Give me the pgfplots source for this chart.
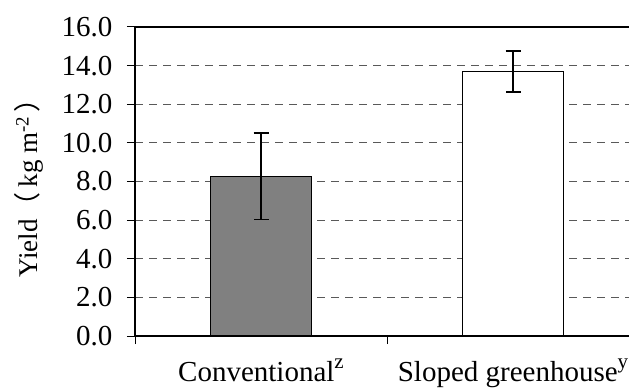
\documentclass[border=0pt]{standalone}
\usepackage{fontspec}
\setmainfont{Liberation Serif}
\newfontfamily\cjk{Noto Sans CJK SC}
\usepackage{pgfplots}
\pgfplotsset{compat=1.18}
\begin{document}
\begin{tikzpicture}
\useasboundingbox (0,0) rectangle (629pt,388pt);
\begin{axis}[
  at={(135pt,52pt)}, anchor=south west,
  scale only axis, width=494pt, height=309pt,
  xmin=-0.5, xmax=1.4603, ymin=0, ymax=16,
  axis x line*=bottom, axis y line*=left,
  axis line style={line width=1.5pt, black, -},
  tick align=outside, major tick length=8pt,
  tick style={black, line width=1pt},
  ytick={0,2,...,14},
  extra y ticks={16}, extra y tick labels={16.0},
  extra y tick style={ymajorgrids=true, major grid style={solid, black, line width=1.5pt}},
  yticklabel={\pgfmathprintnumber[fixed,fixed zerofill,precision=1]{\tick}},
  /pgf/number format/assume math mode=true,
  ymajorgrids,
  major grid style={black!65, line width=1pt, dash pattern=on 8pt off 6pt},
  xtick={-0.5,0.5}, xticklabels={},
  extra x ticks={0,1},
  extra x tick labels={Conventional\raisebox{0.45em}{\fontsize{21}{24}\selectfont z}, Sloped greenhouse\raisebox{0.45em}{\fontsize{21}{24}\selectfont y}},
  extra x tick style={major tick length=0pt, xmajorgrids=false, xticklabel style={yshift=-19pt}},
  xticklabel style={font=\fontsize{29}{34}\selectfont},
  yticklabel style={xshift=-11pt, font=\fontsize{29}{34}\selectfont},
  ylabel={Yield{\cjk （}\hspace{0.2em}kg m\textsuperscript{-2}\hspace{0.15em}{\cjk ）}},
  ylabel style={at={(axis description cs:-0.2146,0.5)}, anchor=center, font=\fontsize{27}{32}\selectfont},
  clip=false,
]
\addplot[ybar, bar width=101pt, fill=gray, draw=black, line width=1.5pt,
  error bars/.cd, y dir=both, y explicit,
  error bar style={line width=1.5pt, black},
  error mark options={line width=1.5pt, black, mark size=7.5pt, rotate=90}]
  coordinates {(0,8.27) +- (0,2.23)};
\addplot[ybar, bar width=101pt, fill=white, draw=black, line width=1.5pt,
  error bars/.cd, y dir=both, y explicit,
  error bar style={line width=1.5pt, black},
  error mark options={line width=1.5pt, black, mark size=7.5pt, rotate=90}]
  coordinates {(1,13.70) +- (0,1.07)};
\end{axis}
\end{tikzpicture}
\end{document}
